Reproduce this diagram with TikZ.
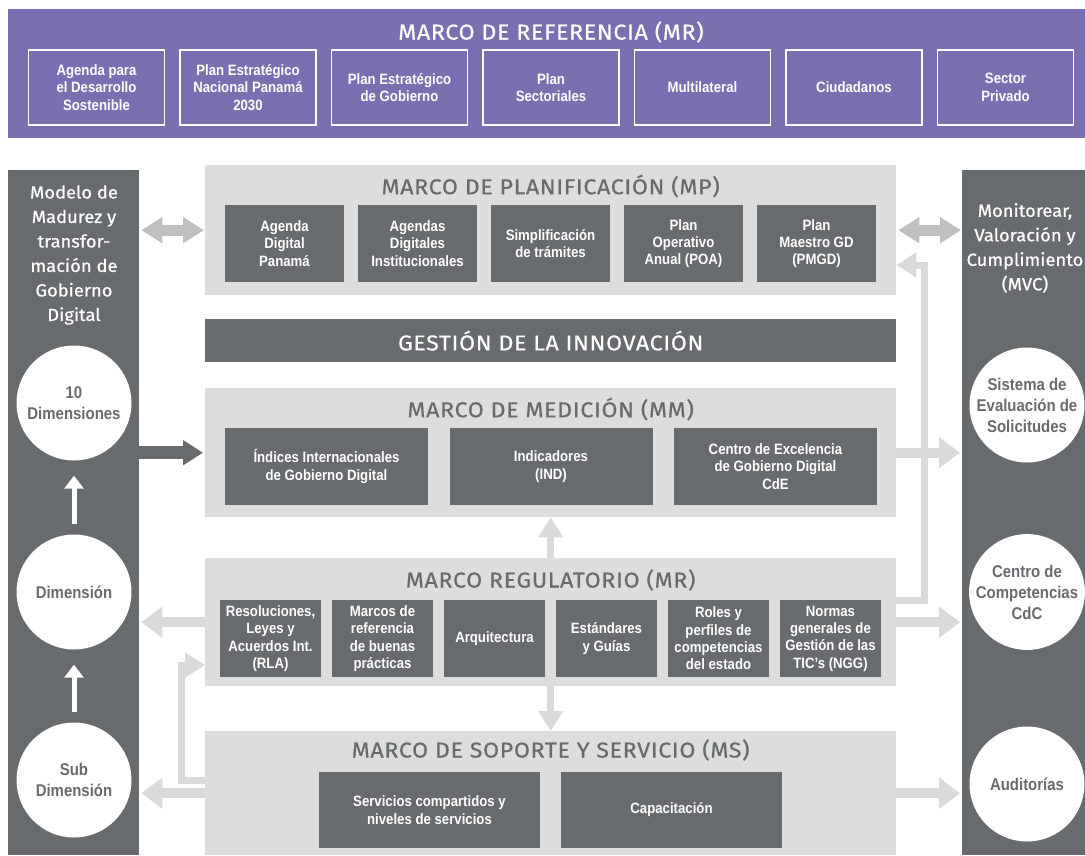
\documentclass[tikz,border=0pt]{standalone}
\usepackage{fontspec}
\setmainfont{Fira Sans}
\newfontfamily\condfont[FakeStretch=0.88]{Liberation Sans}
\newfontfamily\headfont[FakeBold=0.5, FakeStretch=1.08, LetterSpace=3]{Fira Sans}
\newfontfamily\panelfont[FakeBold=0.7, FakeStretch=1.05]{Fira Sans}
\usepackage{tikz}
\usetikzlibrary{arrows.meta}
\usetikzlibrary{positioning}

\definecolor{mrpurple}{RGB}{123,110,177}
\definecolor{mgray}{RGB}{103,107,109}
\definecolor{mlight}{RGB}{220,221,220}
\definecolor{marrow}{RGB}{217,219,218}
\definecolor{mdouble}{RGB}{190,192,191}

\tikzset{
  panel/.style={fill=mgray, anchor=north west, inner sep=0pt, minimum height=685pt},
  frame/.style={fill=mlight, anchor=north west, inner sep=0pt, minimum width=691pt},
  titlefont/.style={font=\headfont\fontsize{21.5}{24}\selectfont},
  frametitle/.style={titlefont, text=mgray},
  paneltext/.style={text=white, align=center, font=\panelfont\fontsize{17.5}{24.5}\selectfont},
  refbox/.style={draw=white, line width=1.6pt, minimum width=136pt, minimum height=75pt, inner sep=0pt,
    align=center, text=white, font=\condfont\bfseries\fontsize{15}{17.7}\selectfont},
  grbox/.style={fill=mgray, inner sep=0pt, minimum height=77pt, align=center, text=white,
    font=\condfont\bfseries\fontsize{15}{17.3}\selectfont},
  dimcircle/.style={circle, fill=white, minimum size=115pt, inner sep=0pt, align=center, text=mgray,
    font=\condfont\bfseries\fontsize{17}{21}\selectfont},
  dblarrow/.style={line width=11pt, draw=mdouble, {Triangle[length=21pt,width=25pt]}-{Triangle[length=21pt,width=25pt]}, shorten <=2pt, shorten >=1pt},
  darkarrow/.style={line width=13pt, draw=mgray, -{Triangle[length=20pt,width=24pt]}, shorten >=2pt},
  lightarrow/.style={line width=10pt, draw=marrow, -{Triangle[length=21pt,width=30pt]}, shorten >=2pt},
  linkarrow/.style={line width=7pt, draw=marrow, -{Triangle[length=20pt,width=24pt]}},
  whitearrow/.style={line width=5pt, draw=white, -{Triangle[length=13pt,width=19pt]}}
}

\begin{document}
\begin{tikzpicture}[x=1pt,y=-1pt]
\useasboundingbox (0,0) rectangle (1085,855);

% marco de referencia
\path
(8,9) node[fill=mrpurple, anchor=north west, inner sep=0pt, minimum width=1077pt, minimum height=129pt] (mrband) {}
(551,32) node[titlefont, text=white] (mrtitle) {MARCO DE REFERENCIA (MR)};

\foreach \i/\t in {1/{Agenda para\\el Desarrollo\\Sostenible}, 2/{Plan Estratégico\\Nacional Panamá\\2030},
    3/{Plan Estratégico\\de Gobierno}, 4/{Plan\\Sectoriales}, 5/{Multilateral}, 6/{Ciudadanos}, 7/{Sector\\Privado}}
  \node[refbox] (ref\i) at ({96.5+(\i-1)*151.5},87.5) {\t};

% side panels
\path
(8,170) node[panel, minimum width=131pt] (lpanel) {}
(962,170) node[panel, minimum width=123pt] (rpanel) {}
(74,255) node[paneltext] (ltext) {Modelo de\\Madurez y\\transfor-\\mación de\\Gobierno\\Digital}
(1025,248) node[paneltext] (rtext) {Monitorear,\\Valoración y\\Cumplimiento\\(MVC)};

\path
(74,403) node[dimcircle] (dim10) {10\\Dimensiones}
(74,592) node[dimcircle] (dim) {Dimensión}
(74,780) node[dimcircle] (subdim) {Sub\\Dimensión}
(1027,405) node[dimcircle] (ses) {Sistema de\\Evaluación de\\Solicitudes}
(1027,592) node[dimcircle] (cdc) {Centro de\\Competencias\\CdC}
(1027,784) node[dimcircle] (aud) {Auditorías};

\draw[whitearrow, shorten <=10pt, shorten >=15pt] (dim) -- (dim10);
\draw[whitearrow, shorten <=10pt, shorten >=15pt] (subdim) -- (dim);

% marcos
\path
(205,165) node[frame, minimum height=130pt] (mp) {}
(205,319) node[fill=mgray, anchor=north west, inner sep=0pt, minimum width=691pt, minimum height=43pt,
   titlefont, text=white] (gdi) {GESTIÓN DE LA INNOVACIÓN}
(205,388) node[frame, minimum height=129pt] (mm) {}
(205,558) node[frame, minimum height=128pt] (mr) {}
(205,731) node[frame, minimum height=124pt] (ms) {};

\node[frametitle] (mptitle) at ([yshift=-21pt]mp.north) {MARCO DE PLANIFICACIÓN (MP)};
\node[frametitle] (mmtitle) at ([yshift=-21pt]mm.north) {MARCO DE MEDICIÓN (MM)};
\node[frametitle] (mrtitle2) at ([yshift=-22pt]mr.north) {MARCO REGULATORIO (MR)};
\node[frametitle] (mstitle) at ([yshift=-19pt]ms.north) {MARCO DE SOPORTE Y SERVICIO (MS)};

\foreach \i/\t in {1/{Agenda\\Digital\\Panamá}, 2/{Agendas\\Digitales\\Institucionales}, 3/{Simplificación\\de trámites},
    4/{Plan\\Operativo\\Anual (POA)}, 5/{Plan\\Maestro GD\\(PMGD)}}
  \node[grbox, minimum width=119pt] (mp\i) at ({284.5+(\i-1)*133},243.5) {\t};

\foreach \i/\t in {1/{Índices Internacionales\\de Gobierno Digital}, 2/{Indicadores\\(IND)}, 3/{Centro de Excelencia\\de Gobierno Digital\\CdE}}
  \node[grbox, minimum width=203pt] (mm\i) at ({326.5+(\i-1)*224.5},466.5) {\t};

\foreach \i/\t in {1/{Resoluciones,\\Leyes y\\Acuerdos Int.\\(RLA)}, 2/{Marcos de\\referencia\\de buenas\\prácticas}, 3/{Arquitectura},
    4/{Estándares\\y Guías}, 5/{Roles y\\perfiles de\\competencias\\del estado}, 6/{Normas\\generales de\\Gestión de las\\TIC’s (NGG)}}
  \node[grbox, minimum width=101pt] (mr\i) at ({270.5+(\i-1)*112},638.5) {\t};

\foreach \i/\t in {1/{Servicios compartidos y\\niveles de servicios}, 2/{Capacitación}}
  \node[grbox, minimum width=221pt, minimum height=76pt] (ms\i) at ({429.5+(\i-1)*242},810) {\t};

% flechas
\coordinate (rbend) at (924,600);
\coordinate (rtop) at (924,265);
\coordinate (lbend) at (181,780);
\coordinate (ltop) at (181,665);

\draw[dblarrow] (lpanel.east |- mp.west) -- (mp.west);
\draw[dblarrow] (mp.east) -- (mp.east -| rpanel.west);
\draw[darkarrow] (lpanel.east |- mm.west) -- (mm.west);
\draw[lightarrow] (mm.east) -- (mm.east -| rpanel.west);
\draw[lightarrow] (mr.west) -- (mr.west -| lpanel.east);
\draw[lightarrow] (mr.east) -- (mr.east -| rpanel.west);
\draw[lightarrow] (ms.west) -- (ms.west -| lpanel.east);
\draw[lightarrow] (ms.east) -- (ms.east -| rpanel.west);
\draw[linkarrow] (mr.north) -- (mm.south);
\draw[linkarrow] (mr.south) -- (ms.north);
\draw[linkarrow] (mr.east |- rbend) -- (rbend) -- (rtop) -- (mp.east |- rtop);
\draw[linkarrow] (ms.west |- lbend) -- (lbend) -- (ltop) -- (mr.west |- ltop);

\end{tikzpicture}
\end{document}
